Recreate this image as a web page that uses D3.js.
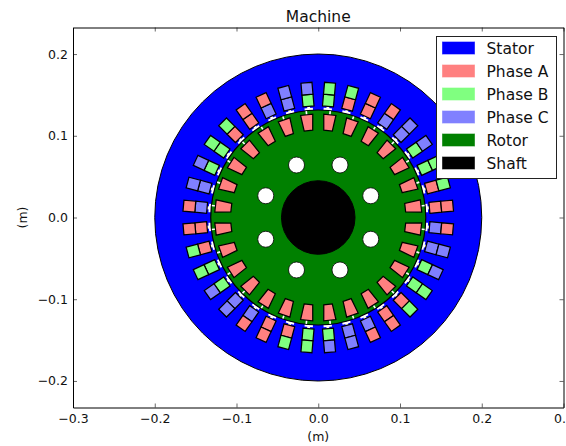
<!DOCTYPE html>
<html>
<head>
<meta charset="utf-8">
<script src="https://cdn.jsdelivr.net/npm/d3@7"></script>
<style>
html, body { margin: 0; padding: 0; background: #fff; overflow: hidden; }
text { font-family: "DejaVu Sans", sans-serif; fill: #111; }
</style>
</head>
<body>
<div id="chart"></div>
<script>
var xTicks = [-0.3, -0.2, -0.1, 0, 0.1, 0.2, 0.3]
var yTicks = [-0.2, -0.1, 0, 0.1, 0.2]

var legendNames = ['Stator', 'Phase A', 'Phase B', 'Phase C', 'Rotor', 'Shaft']

// stator slots, degrees counter clockwise from +x
var slotAngles = [5, 15, 25, 35, 45, 55, 65, 75, 85, 95, 105, 115, 125, 135, 145, 155, 165, 175,
    185, 195, 205, 215, 225, 235, 245, 255, 265, 275, 285, 295, 305, 315, 325, 335, 345, 355]
var innerPhase = ['A', 'A', 'B', 'B', 'C', 'C', 'A', 'A', 'B', 'B', 'C', 'C', 'A', 'A', 'B', 'B', 'C', 'C',
    'A', 'A', 'B', 'B', 'C', 'C', 'A', 'A', 'B', 'B', 'C', 'C', 'A', 'A', 'B', 'B', 'C', 'C']
var outerPhase = ['A', 'B', 'B', 'C', 'C', 'A', 'A', 'B', 'B', 'C', 'C', 'A', 'A', 'B', 'B', 'C', 'C', 'A',
    'A', 'B', 'B', 'C', 'C', 'A', 'A', 'B', 'B', 'C', 'C', 'A', 'A', 'B', 'B', 'C', 'C', 'A']

// rotor bars
var barAngles = [6.43, 19.29, 32.14, 45, 57.86, 70.71, 83.57, 96.43, 109.29, 122.14, 135, 147.86, 160.71, 173.57,
    186.43, 199.29, 212.14, 225, 237.86, 250.71, 263.57, 276.43, 289.29, 302.14, 315, 327.86, 340.71, 353.57]

var holeAngles = [22.5, 67.5, 112.5, 157.5, 202.5, 247.5, 292.5, 337.5]

var colors = {
    Stator: '#0000ff', A: '#ff8080', B: '#80ff80', C: '#8080ff', Rotor: '#008000', Shaft: '#000000'
}

var width = 566
var height = 446

var x = d3.scaleLinear().domain([-0.3, 0.3]).range([73, 563.5])
var y = d3.scaleLinear().domain([-0.2325, 0.2325]).range([407.5, 27.5])

var svg = d3.select('#chart').append('svg')
    .attr('width', width)
    .attr('height', height)
    .style('display', 'block')

// point in a slot's own frame: r along the slot, t across it
function pt(r, t, deg) {
    var a = deg * Math.PI / 180
    return [x(r * Math.cos(a) - t * Math.sin(a)), y(r * Math.sin(a) + t * Math.cos(a))]
}
var line = d3.line()

function quad(deg, r0, w0, r1, w1) {
    return line([pt(r0, -w0 / 2, deg), pt(r1, -w1 / 2, deg), pt(r1, w1 / 2, deg), pt(r0, w0 / 2, deg)]) + 'Z'
}

function disc(g, r, cx, cy, fill, sw) {
    g.append('circle')
        .attr('cx', x(cx)).attr('cy', y(cy))
        .attr('r', x(r) - x(0))
        .attr('fill', fill)
        .attr('stroke', '#000')
        .attr('stroke-width', sw)
}

var machine = svg.append('g')

disc(machine, 0.2, 0, 0, colors.Stator, 1)

// slot openings behind the coils
var slots = machine.append('g').selectAll('g')
    .data(slotAngles)
    .enter().append('g')

slots.append('path')
    .attr('d', d => {
        var a0 = (90 - d - 2.2) * Math.PI / 180
        var a1 = (90 - d + 2.2) * Math.PI / 180
        return d3.arc()({ innerRadius: x(0.1315) - x(0), outerRadius: x(0.1345) - x(0), startAngle: a0, endAngle: a1 })
    })
    .attr('transform', `translate(${x(0)},${y(0)})`)
    .attr('fill', '#fff')

slots.append('path')
    .attr('d', d => quad(d, 0.133, 0.0035, 0.137, 0.0035))
    .attr('fill', '#fff')

// coils
slots.append('path')
    .attr('d', d => quad(d, 0.1365, 0.0135, 0.151, 0.0135))
    .attr('fill', (d, i) => colors[innerPhase[i]])
    .attr('stroke', '#000')
    .attr('stroke-width', 1.25)

slots.append('path')
    .attr('d', d => quad(d, 0.151, 0.0135, 0.1655, 0.0135))
    .attr('fill', (d, i) => colors[outerPhase[i]])
    .attr('stroke', '#000')
    .attr('stroke-width', 1.25)

disc(machine, 0.1315, 0, 0, colors.Rotor, 1.2)

// rotor bars
var bars = machine.append('g').selectAll('g')
    .data(barAngles)
    .enter().append('g')

bars.append('path')
    .attr('d', d => quad(d, 0.1255, 0.002, 0.131, 0.002))
    .attr('fill', '#fff')

bars.append('path')
    .attr('d', d => quad(d, 0.107, 0.0105, 0.1265, 0.015))
    .attr('fill', colors.A)
    .attr('stroke', '#000')
    .attr('stroke-width', 1.25)

// cooling holes
holeAngles.forEach(d => {
    var a = d * Math.PI / 180
    disc(machine, 0.0098, 0.0695 * Math.cos(a), 0.0695 * Math.sin(a), '#fff', 0.8)
})

disc(machine, 0.045, 0, 0, colors.Shaft, 1)

// axes, matplotlib style with ticks pointing in on all four sides
function styleAxis(g) {
    g.selectAll('.domain').attr('stroke', '#000').attr('stroke-width', 1)
    g.selectAll('.tick line').attr('stroke', '#000').attr('stroke-width', 0.6)
    g.selectAll('text').style('font-size', '12.5px').attr('fill', '#111')
}
var fmt = d => d.toFixed(1).replace('-', '\u2212')

svg.append('g')
    .attr('transform', `translate(0,${y.range()[0]})`)
    .call(d3.axisBottom(x).tickValues(xTicks).tickFormat(fmt).tickSizeInner(-4).tickSizeOuter(0).tickPadding(7))
    .call(styleAxis)

svg.append('g')
    .attr('transform', `translate(0,${y.range()[1]})`)
    .call(d3.axisTop(x).tickValues(xTicks).tickFormat('').tickSizeInner(-4).tickSizeOuter(0))
    .call(styleAxis)

svg.append('g')
    .attr('transform', `translate(${x.range()[0]},0)`)
    .call(d3.axisLeft(y).tickValues(yTicks).tickFormat(fmt).tickSizeInner(-4).tickSizeOuter(0).tickPadding(5))
    .call(styleAxis)

svg.append('g')
    .attr('transform', `translate(${x.range()[1]},0)`)
    .call(d3.axisRight(y).tickValues(yTicks).tickFormat('').tickSizeInner(-4).tickSizeOuter(0))
    .call(styleAxis)

svg.append('text')
    .attr('x', x(0)).attr('y', 22)
    .attr('text-anchor', 'middle')
    .style('font-size', '15.5px')
    .text('Machine')

svg.append('text')
    .attr('x', x(0)).attr('y', 441)
    .attr('text-anchor', 'middle')
    .style('font-size', '12.5px')
    .text('(m)')

svg.append('text')
    .attr('transform', `translate(27,${y(0)}) rotate(-90)`)
    .attr('text-anchor', 'middle')
    .style('font-size', '12.5px')
    .text('(m)')

// legend
var legend = svg.append('g').attr('transform', 'translate(436,36)')

legend.append('rect')
    .attr('x', 0.5).attr('y', 0.5)
    .attr('width', 120).attr('height', 142)
    .attr('fill', '#fff')
    .attr('stroke', '#222')
    .attr('stroke-width', 1)

var legendKeys = ['Stator', 'A', 'B', 'C', 'Rotor', 'Shaft']
var rows = legend.selectAll('.row')
    .data(legendNames)
    .enter().append('g')
    .attr('class', 'row')
    .attr('transform', (d, i) => `translate(0,${12 + i * 23})`)

rows.append('rect')
    .attr('x', 6.5).attr('y', -6)
    .attr('width', 32).attr('height', 12)
    .attr('fill', (d, i) => colors[legendKeys[i]])
    .attr('stroke', (d, i) => colors[legendKeys[i]])
    .attr('stroke-opacity', 0.6)

rows.append('text')
    .attr('x', 50.5).attr('y', 5.5)
    .style('font-size', '15.5px')
    .text(d => d)
</script>
</body>
</html>
